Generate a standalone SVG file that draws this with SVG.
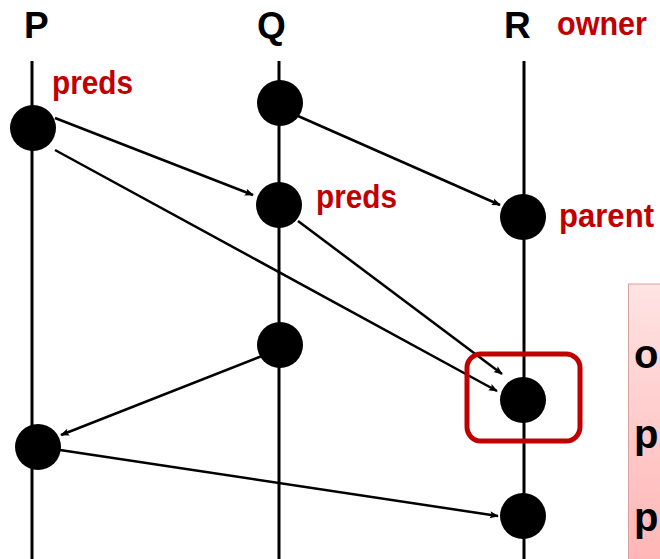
<svg xmlns="http://www.w3.org/2000/svg" width="660" height="559" viewBox="0 0 660 559">
  <defs>
    <marker id="arrow" viewBox="0 0 10 10" refX="9" refY="5" markerWidth="9" markerHeight="9" orient="auto" markerUnits="userSpaceOnUse">
      <path d="M0,1 L10,5 L0,9 L2,5 z" fill="#000"/>
    </marker>
    <linearGradient id="pink" x1="0" y1="0" x2="0" y2="1">
      <stop offset="0" stop-color="#ffe3e3"/>
      <stop offset="1" stop-color="#ffb3b3"/>
    </linearGradient>
    <style>
      .life { stroke: #000; stroke-width: 3; }
      .ev { fill: #000; }
      .msg { stroke: #000; stroke-width: 2.5; fill: none; marker-end: url(#arrow); }
      .proc { font-family: "Liberation Sans", Arial, sans-serif; font-weight: bold; font-size: 37px; fill: #000; }
      .tag { font-family: "Liberation Sans", Arial, sans-serif; font-weight: bold; font-size: 33px; fill: #c00000; }
      .note { font-family: "Liberation Sans", Arial, sans-serif; font-weight: bold; font-size: 40px; fill: #000; }
    </style>
  </defs>

  <!-- process names -->
  <text class="proc" x="24" y="38">P</text>
  <text class="proc" x="257" y="38">Q</text>
  <text class="proc" x="504" y="38">R</text>
  <text class="tag" x="557" y="35" textLength="90" lengthAdjust="spacingAndGlyphs">owner</text>

  <!-- lifelines -->
  <g id="lifelines">
    <line class="life" x1="32" y1="61" x2="32" y2="559"/>
    <line class="life" x1="279" y1="61" x2="279" y2="559"/>
    <line class="life" x1="524" y1="61" x2="524" y2="559"/>
  </g>

  <!-- messages -->
  <g id="connectors">
    <line class="msg" x1="55" y1="118" x2="253" y2="195"/>
    <line class="msg" x1="55" y1="150" x2="497" y2="391"/>
    <line class="msg" x1="298" y1="116" x2="500" y2="205"/>
    <line class="msg" x1="298" y1="221" x2="502" y2="374"/>
    <line class="msg" x1="262" y1="356" x2="61" y2="435"/>
    <line class="msg" x1="60" y1="450" x2="498" y2="516"/>
  </g>

  <!-- events -->
  <g id="p1"><circle class="ev" cx="33" cy="128" r="23"/><text class="tag" x="52" y="94" textLength="81" lengthAdjust="spacingAndGlyphs">preds</text></g>
  <g id="q1"><circle class="ev" cx="280" cy="103" r="23"/></g>
  <g id="q2"><circle class="ev" cx="279" cy="205" r="23"/><text class="tag" x="316" y="208" textLength="81" lengthAdjust="spacingAndGlyphs">preds</text></g>
  <g id="r1"><circle class="ev" cx="523" cy="217" r="23"/><text class="tag" x="559" y="227" textLength="95" lengthAdjust="spacingAndGlyphs">parent</text></g>
  <g id="q3"><circle class="ev" cx="280" cy="345" r="23"/></g>
  <g id="r2">
    <rect x="467" y="354" width="113" height="87" rx="14" fill="none" stroke="#c00000" stroke-width="5"/>
    <circle class="ev" cx="523" cy="400" r="23"/>
  </g>
  <g id="p2"><circle class="ev" cx="38" cy="447" r="23"/></g>
  <g id="r3"><circle class="ev" cx="523" cy="516" r="23"/></g>

  <!-- side panel -->
  <g id="panel">
    <rect x="628.5" y="284" width="40" height="290" fill="url(#pink)" stroke="#d9a0a0" stroke-width="1"/>
    <text class="note" x="634" y="368">o</text>
    <text class="note" x="634" y="448">p</text>
    <text class="note" x="634" y="531">p</text>
  </g>
</svg>
